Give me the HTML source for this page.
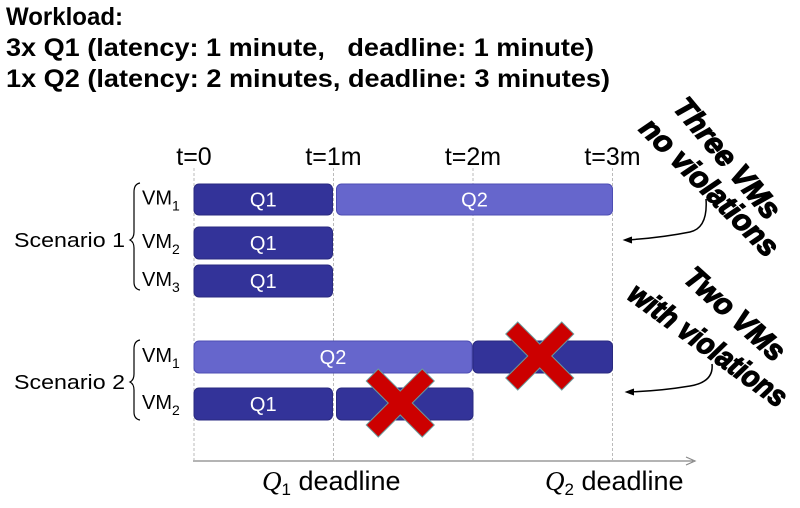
<!DOCTYPE html>
<html><head><meta charset="utf-8"><style>
body{margin:0;background:#fff;width:800px;height:508px;overflow:hidden}
svg{display:block;font-family:"Liberation Sans",sans-serif}
</style></head><body>
<svg id="c" width="800" height="508" viewBox="0 0 800 508">
<g font-weight="bold" font-size="25" fill="#000">
<text x="6" y="25" textLength="117" lengthAdjust="spacingAndGlyphs">Workload:</text>
<text x="6" y="56" xml:space="preserve" textLength="588" lengthAdjust="spacingAndGlyphs">3x Q1 (latency: 1 minute,   deadline: 1 minute)</text>
<text x="6" y="87" textLength="604" lengthAdjust="spacingAndGlyphs">1x Q2 (latency: 2 minutes, deadline: 3 minutes)</text>
</g>
<g id="grid"></g>
<g id="bars"></g>
<g id="labels" font-size="20" fill="#000"></g>
<line x1="193" y1="461" x2="693" y2="461" stroke="#888" stroke-width="1.2"/>
<path d="M686 457 L695 461 L686 465" fill="none" stroke="#888" stroke-width="1.2"/>
<text x="262" y="490" font-size="27"><tspan font-family="Liberation Serif" font-style="italic">Q</tspan><tspan font-size="17" dy="5">1</tspan><tspan dy="-5"> deadline</tspan></text>
<text x="545" y="490" font-size="27"><tspan font-family="Liberation Serif" font-style="italic">Q</tspan><tspan font-size="17" dy="5">2</tspan><tspan dy="-5"> deadline</tspan></text>
<text x="14" y="247" font-size="20" textLength="111" lengthAdjust="spacingAndGlyphs">Scenario 1</text>
<text x="14" y="389" font-size="20" textLength="111" lengthAdjust="spacingAndGlyphs">Scenario 2</text>
<path d="M140 183 Q134 184 134 192 L134 232 Q134 238 130 240 Q134 242 134 248 L134 282 Q134 289 140 290" fill="none" stroke="#000" stroke-width="1.2"/>
<path d="M140 340 Q134 341 134 349 L134 374 Q134 380 130 382 Q134 384 134 390 L134 412 Q134 419 140 420" fill="none" stroke="#000" stroke-width="1.2"/>
<g font-family='"Liberation Sans Narrow","Liberation Sans",sans-serif' font-weight="bold" font-style="italic" font-size="30" fill="#000" stroke="#000" stroke-width="1.4">
<text transform="translate(672,108) rotate(50)" textLength="148" lengthAdjust="spacingAndGlyphs">Three VMs</text>
<text transform="translate(638,130) rotate(45)" textLength="182" lengthAdjust="spacingAndGlyphs">no violations</text>
<text transform="translate(682,280) rotate(42)" textLength="124" lengthAdjust="spacingAndGlyphs">Two VMs</text>
<text transform="translate(626,298) rotate(36)" textLength="188" lengthAdjust="spacingAndGlyphs">with violations</text>
</g>
<path d="M706 199 Q708 228 690 232 Q660 238 626 240" fill="none" stroke="#000" stroke-width="1.5"/>
<path d="M632 237 L624 240 L632 243" fill="#000" stroke="#000"/>
<path d="M712 364 Q714 382 690 386 Q660 391 628 392" fill="none" stroke="#000" stroke-width="1.5"/>
<path d="M634 389 L626 392 L634 395" fill="#000" stroke="#000"/>
</svg>
<script>
const ticks=["t=0","t=1m","t=2m","t=3m"];
const tickVals=[0,1,2,3];
const barRow=[0,0,1,2,3,3,4,4];
const barStart=[0,1,0,0,0,2,0,1];
const barEnd=[1,3,1,1,2,3,1,2];
const barLabel=["Q1","Q2","Q1","Q1","Q2","","Q1",""];
const barKind=["q1","q2","q1","q1","q2","q1","q1","q1"];
const barViolated=[0,0,0,0,0,1,0,1];
const rowNames=["VM","VM","VM","VM","VM"];
const rowSubs=["1","2","3","1","2"];
const NS="http://www.w3.org/2000/svg";
const x=v=>194+v*139.5;
const rowY=[184,227,265,341,388];
const rowH=[31,32,32,32,32];
function mk(t,a,p){const e=document.createElementNS(NS,t);for(const k in a)e.setAttribute(k,a[k]);p.appendChild(e);return e;}
const grid=document.getElementById('grid'),bars=document.getElementById('bars'),labels=document.getElementById('labels');
tickVals.forEach((v,i)=>{
 const l=mk('line',{x1:x(v),x2:x(v),y1:168,y2:460,stroke:'#bbb','stroke-dasharray':'3,2'},grid);
 
 
 const t=mk('text',{x:x(v),y:165,'text-anchor':'middle','font-size':'25'},grid);t.textContent=ticks[i];
 
 
});
rowNames.forEach((n,i)=>{
 const t=mk('text',{x:142,y:rowY[i]+rowH[i]/2+5},labels);
 
 
 t.appendChild(document.createTextNode(n));
 const s=mk('tspan',{'font-size':'14',dy:'6'},t);s.textContent=rowSubs[i];
});
barRow.forEach((r,i)=>{
 const x0=x(barStart[i])+(barStart[i]>0&&(barKind[i]=='q2'||r==4)?3:0);
 const x1=x(barEnd[i])-(barEnd[i]<3&&barStart[i]==0?1:0);
 const rc=mk('rect',{x:x0,y:rowY[r],width:x1-x0,height:rowH[r],rx:5,fill:barKind[i]=='q2'?'#6666cc':'#333399',stroke:barKind[i]=='q2'?'#4d4db3':'#2a2a80','stroke-width':1},bars);
 
 
 if(barLabel[i]){const t=mk('text',{x:(x0+x1)/2,y:rowY[r]+rowH[r]/2+7,'text-anchor':'middle','font-size':'20',fill:'#fff'},bars);t.textContent=barLabel[i];
 
 }
});
barRow.forEach((r,i)=>{
 if(!barViolated[i])return;
 const cx=(x(barStart[i])+x(barEnd[i]))/2-3,cy=rowY[r]+rowH[r]/2-1;
 const a=34,b=12;
 const d=`M${cx-a+b} ${cy-a} L${cx} ${cy-b} L${cx+a-b} ${cy-a} L${cx+a} ${cy-a+b} L${cx+b} ${cy} L${cx+a} ${cy+a-b} L${cx+a-b} ${cy+a} L${cx} ${cy+b} L${cx-a+b} ${cy+a} L${cx-a} ${cy+a-b} L${cx-b} ${cy} L${cx-a} ${cy-a+b} Z`;
 const p=mk('path',{d:d,fill:'#cc0000',stroke:'#6a9a9a','stroke-width':1},bars);
 
 
});
</script>
</body></html>
